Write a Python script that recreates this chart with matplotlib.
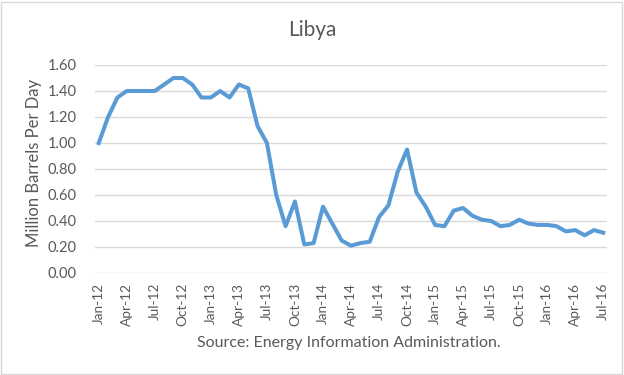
import matplotlib
matplotlib.use("Agg")
import matplotlib.pyplot as plt
from matplotlib.patches import Rectangle

months = ["Jan", "Feb", "Mar", "Apr", "May", "Jun", "Jul", "Aug", "Sep", "Oct", "Nov", "Dec"]
dates = [f"{months[i % 12]}-{12 + i // 12}" for i in range(55)]

production = [1.00, 1.20, 1.35, 1.40, 1.40, 1.40, 1.40, 1.45, 1.50, 1.50,
              1.45, 1.35, 1.35, 1.40, 1.35, 1.45, 1.42, 1.13, 1.00, 0.60,
              0.36, 0.55, 0.22, 0.23, 0.51, 0.38, 0.25, 0.21, 0.23, 0.24,
              0.43, 0.52, 0.78, 0.95, 0.62, 0.51, 0.37, 0.36, 0.48, 0.50,
              0.44, 0.41, 0.40, 0.36, 0.37, 0.41, 0.38, 0.37, 0.37, 0.36,
              0.32, 0.33, 0.29, 0.33, 0.31]

yticks = [0.0, 0.2, 0.4, 0.6, 0.8, 1.0, 1.2, 1.4, 1.6]

plt.rcParams['font.family'] = ['Lato', 'DejaVu Sans']
txt = '#595959'

fig = plt.figure(figsize=(6.24, 3.75), dpi=100)
ax = fig.add_axes([95/624, 1 - 273/375, (607 - 95)/624, (273 - 65)/375])

x = list(range(len(production)))
ax.plot(x, production, color='#5B9BD5', lw=2.9, solid_joinstyle='round', zorder=3)

ax.set_ylim(0, 1.6)
ax.set_xlim(-0.4, 54.4)
ax.set_yticks(yticks)
ax.set_yticklabels([f"{v:.2f}" for v in yticks], fontsize=10.5, color=txt)
ax.set_xticks(x[::3])
ax.set_xticklabels(dates[::3], rotation=90, fontsize=9.8, color=txt)
ax.tick_params(axis='y', length=0, pad=13)
ax.tick_params(axis='x', length=0, pad=7)
ax.grid(axis='y', color='#D9D9D9', lw=1)
for s in ax.spines.values():
    s.set_visible(False)
ax.set_axisbelow(True)

fig.text(34/624, 1 - 163/375, "Million Barrels Per Day", rotation=90,
         ha='center', va='center', fontsize=12, color=txt)
fig.text(349/624, 1 - 343/375, "Source: Energy Information Administration.",
         ha='center', va='center', fontsize=11.5, color=txt)
fig.text(312/624, 1 - 30/375, "Libya", ha='center', va='center', fontsize=15, color=txt)

fig.patches.append(Rectangle((0.002, 0.003), 0.995, 0.993, transform=fig.transFigure,
                             fill=False, edgecolor='#D9D9D9', lw=1))

fig.savefig("out.png", dpi=100)
